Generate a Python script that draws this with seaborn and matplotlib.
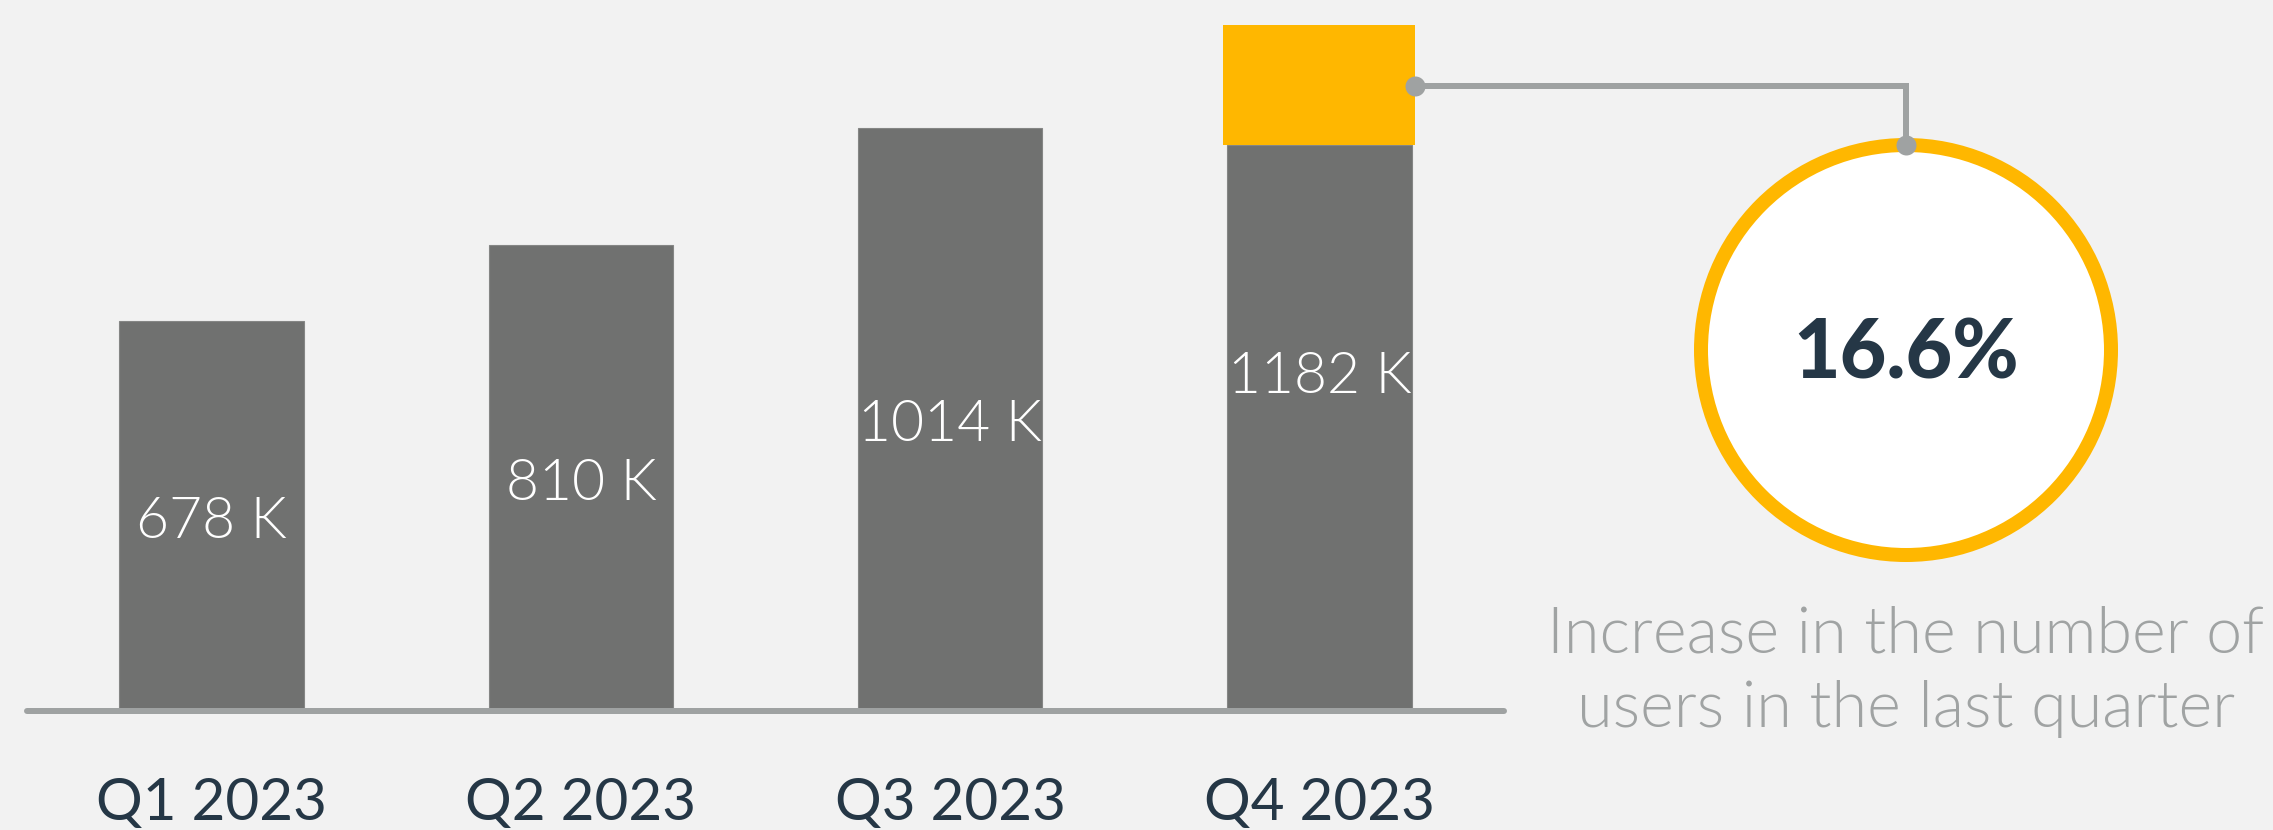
import matplotlib
matplotlib.use("Agg")
import matplotlib.pyplot as plt
import seaborn as sns
import pandas as pd
from matplotlib.patches import Circle

# ---------------- data ----------------
quarters = ["Q1 2023", "Q2 2023", "Q3 2023", "Q4 2023"]
users_k = [678, 810, 1014, 1182]            # label values (K users)
grey_heights_k = [678, 810, 1014, 984]      # grey part of each bar as drawn
q4_highlight_k = [984, 1193]                # highlighted Q4 segment (bottom, top)
growth_label = "16.6%"
note_lines = ["Increase in the number of", "users in the last quarter"]

# ---------------- style ----------------
BG = "#F2F2F2"
GREY = "#707170"
ORANGE = "#FFB700"
LINE = "#9FA2A2"
NAVY = "#253746"
NOTE = "#A0A3A3"

W, H = 2273, 830
PT = 0.72  # points per pixel at dpi 100

sns.set_theme(style="white")
plt.rcParams["font.family"] = ["Lato", "DejaVu Sans"]

fig = plt.figure(figsize=(W / 100, H / 100), dpi=100, facecolor=BG)

# main bar axes: baseline at y=711 px, 0.575 px per K
ymax = 1230
ax = fig.add_axes([27 / W, (H - 711) / H, 1477 / W, ymax * 0.575 / H])
ax.set_facecolor("none")

df = pd.DataFrame({"quarter": quarters, "users": grey_heights_k})
sns.barplot(data=df, x="quarter", y="users", color=GREY, saturation=1,
            width=0.5, ax=ax, zorder=2, edgecolor="#858685", linewidth=0.8)

hl = ax.bar(3, q4_highlight_k[1] - q4_highlight_k[0], bottom=q4_highlight_k[0],
            width=0.52, color=ORANGE, zorder=3, linewidth=0)

ax.set_xlim(-0.5, 3.5)
ax.set_ylim(0, ymax)
ax.axhline(0, color=LINE, lw=6 * PT, zorder=4, clip_on=False)

for s in ax.spines.values():
    s.set_visible(False)
ax.set_yticks([])
ax.set_xlabel("")
ax.set_ylabel("")
ax.set_xticks(range(len(quarters)))
ax.set_xticklabels(quarters)
ax.tick_params(axis="x", length=0, pad=(820 - 711) * PT, labelsize=42, labelcolor=NAVY)
for lab in ax.get_xticklabels():
    lab.set_verticalalignment("baseline")
    lab.set_fontweight(400)

# value labels, centred on half the value
cap = 44
for i, v in enumerate(users_k):
    ax.annotate(f"{v} K", xy=(i, v / 2), xytext=(0, -cap / 2 * PT),
                textcoords="offset points", ha="center", va="baseline",
                color="white", fontsize=41, fontweight=300, zorder=6)

# ---------------- overlay for callout ----------------
ov = fig.add_axes([0, 0, 1, 1])
ov.set_xlim(0, W)
ov.set_ylim(H, 0)
ov.axis("off")
ov.set_facecolor("none")

cx, cy, r_out, ring = 1906, 350, 212, 14
ov.add_patch(Circle((cx, cy), r_out - ring / 2, facecolor="white",
                    edgecolor=ORANGE, lw=ring * PT, zorder=2))

fig.canvas.draw()
bb = hl.patches[0].get_window_extent()
x0 = bb.x1
y0 = H - (bb.y1 - 0.51 * (bb.y1 - bb.y0))
y1 = cy - r_out + ring / 2
ov.plot([x0, cx, cx], [y0, y0, y1], color=LINE, lw=6 * PT, zorder=3,
        solid_joinstyle="miter", solid_capstyle="butt")
ov.plot([x0, cx], [y0, y1], ls="none", marker="o", ms=20 * PT,
        color=LINE, mec="none", zorder=4)

ov.text(cx, 378, growth_label, ha="center", va="baseline", color=NAVY,
        fontsize=58, fontweight=900, zorder=5)
ov.text(cx, 652, note_lines[0], ha="center", va="baseline", color=NOTE,
        fontsize=46.5, fontweight=300)
ov.text(cx, 727, note_lines[1], ha="center", va="baseline", color=NOTE,
        fontsize=46.5, fontweight=300)

fig.savefig("out.png", dpi=100, facecolor=BG)
